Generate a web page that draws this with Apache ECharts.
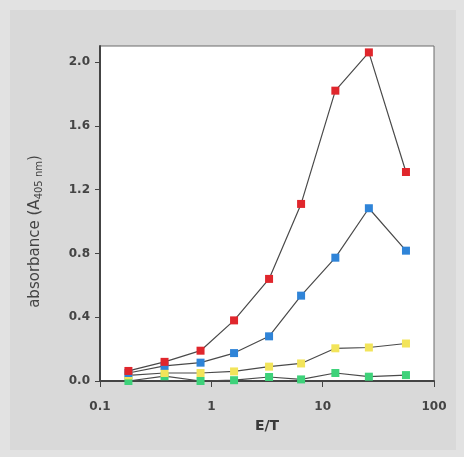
<!DOCTYPE html>
<html>
<head>
<meta charset="utf-8">
<script src="https://cdn.jsdelivr.net/npm/echarts@6/dist/echarts.min.js"></script>
<style>
  html, body { margin: 0; padding: 0; background: #e2e2e2; }
  #chart { width: 464px; height: 457px; }
</style>
</head>
<body>
<div id="chart"></div>
<script>
// E/T ratios (log scale)
let ratios = [0.18, 0.38, 0.8, 1.6, 3.3, 6.4, 13, 26, 56]
// absorbance values
let redVals = [0.063, 0.12, 0.19, 0.38, 0.64, 1.11, 1.82, 2.06, 1.31]
let blueVals = [0.05, 0.095, 0.115, 0.175, 0.28, 0.535, 0.773, 1.083, 0.817]
let yellowVals = [0.035, 0.05, 0.05, 0.06, 0.09, 0.11, 0.205, 0.21, 0.235]
let greenVals = [0.0, 0.03, 0.0, 0.005, 0.025, 0.01, 0.05, 0.027, 0.037]
let yTicks = [0, 0.4, 0.8, 1.2, 1.6, 2.0]

function pairs(vals) {
  return ratios.map((r, i) => [r, vals[i]])
}

function mkSeries(name, vals, color) {
  return {
    name: name,
    type: 'line',
    data: pairs(vals),
    symbol: 'rect',
    symbolSize: 8,
    itemStyle: { color: color },
    lineStyle: { color: '#4a4a4a', width: 1.2 },
    emphasis: { disabled: true },
  }
}

let font = 'DejaVu Sans'
let chart = echarts.init(document.getElementById('chart'))
chart.setOption({
  backgroundColor: '#e2e2e2',
  animation: false,
  graphic: [
    {
      type: 'rect',
      z: -10,
      shape: { x: 10, y: 10, width: 446, height: 440 },
      style: { fill: '#d9d9d9' },
    },
  ],
  grid: {
    left: 100,
    right: 30,
    top: 46,
    bottom: 76,
    show: true,
    backgroundColor: '#ffffff',
    borderColor: '#6a6a6a',
    borderWidth: 1,
  },
  xAxis: {
    type: 'log',
    logBase: 10,
    min: 0.1,
    max: 100,
    name: 'E/T',
    nameLocation: 'middle',
    nameGap: 38,
    nameTextStyle: { color: '#3a3a3a', fontSize: 14, fontWeight: 'bold', fontFamily: font },
    axisLine: { lineStyle: { color: '#444', width: 2 } },
    axisTick: { show: true, inside: false, length: 6, lineStyle: { color: '#444' } },
    minorTick: { show: false },
    splitLine: { show: false },
    axisLabel: {
      margin: 20,
      color: '#444',
      fontSize: 12,
      fontWeight: 'bold',
      fontFamily: font,
      formatter: v => String(v),
    },
  },
  yAxis: {
    type: 'value',
    min: 0,
    max: 2.1,
    interval: 0.4,
    name: 'absorbance (A{sub|405 nm})',
    nameLocation: 'middle',
    nameGap: 56,
    nameTextStyle: {
      color: '#444',
      fontSize: 15,
      fontFamily: font,
      padding: [0, 36, 0, 0],
      rich: {
        sub: { fontSize: 10, color: '#444', fontFamily: font, verticalAlign: 'bottom', padding: [7, 0, 0, 0] },
      },
    },
    axisLine: { show: true, lineStyle: { color: '#444', width: 2 } },
    axisTick: { show: true, inside: false, length: 5, lineStyle: { color: '#444' } },
    splitLine: { show: false },
    axisLabel: {
      margin: 10,
      color: '#444',
      fontSize: 12,
      fontWeight: 'bold',
      fontFamily: font,
      showMaxLabel: false,
      formatter: v => (yTicks.some(t => Math.abs(t - v) < 1e-6) ? v.toFixed(1) : ''),
    },
  },
  series: [
    mkSeries('green', greenVals, '#3ed27a'),
    mkSeries('yellow', yellowVals, '#f2e45a'),
    mkSeries('blue', blueVals, '#2f84d8'),
    mkSeries('red', redVals, '#e0262c'),
  ],
})
</script>
</body>
</html>
